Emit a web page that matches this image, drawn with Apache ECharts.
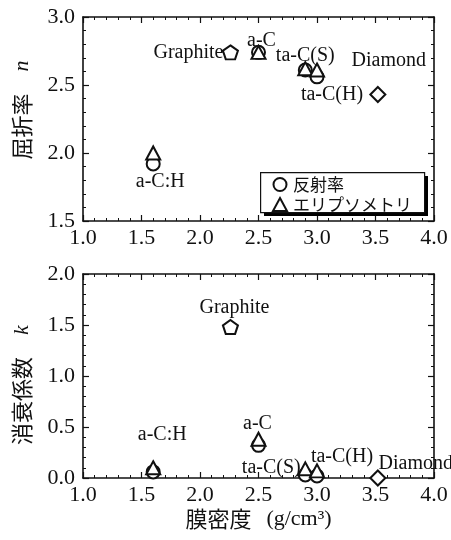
<!DOCTYPE html>
<html>
<head>
<meta charset="utf-8">
<script src="https://cdn.jsdelivr.net/npm/echarts@6/dist/echarts.min.js"></script>
<style>
html,body{margin:0;padding:0;background:#fff;}
#c{width:451px;height:540px;}
</style>
</head>
<body>
<div id="c"></div>
<script>
// ---- data ----
const materials     = ['a-C:H', 'Graphite', 'a-C', 'ta-C(S)', 'ta-C(H)', 'Diamond'];
const density       = [1.60, 2.26, 2.50, 2.90, 3.00, 3.52];
const nReflectance  = [1.92, null, 2.74, 2.61, 2.56, null];
const nEllipsometry = [2.00, null, 2.74, 2.62, 2.61, null];
const nReference    = [null, 2.74, null, null, null, 2.43];
const kReflectance  = [0.06, null, 0.32, 0.03, 0.02, null];
const kEllipsometry = [0.10, null, 0.38, 0.09, 0.07, null];
const kReference    = [null, 1.48, null, null, null, 0.00];
const seriesNames   = ['反射率', 'エリプソメトリ'];
const refSymbols    = {'Graphite': 'pentagon', 'Diamond': 'diamond'};

// ---- styles ----
const INK = '#111';
const SERIF = 'Liberation Serif';
const JP = 'Noto Sans CJK JP';
const PENTAGON = 'path://M50,0 L97.6,34.5 L79.4,90.5 L20.6,90.5 L2.4,34.5 Z';
const labelOffsetTop = {
  'a-C:H': [7, 29], 'Graphite': [-42, 0], 'a-C': [3, -12],
  'ta-C(S)': [0, -13], 'ta-C(H)': [15, 25], 'Diamond': [11, -34]
};
const labelOffsetBottom = {
  'a-C:H': [9, -33], 'Graphite': [4, -19], 'a-C': [-1, -15],
  'ta-C(S)': [-34, -1], 'ta-C(H)': [25, -14], 'Diamond': [38, -14]
};

function pairs(vals) {
  const out = [];
  vals.forEach((v, i) => { if (v !== null) out.push([density[i], v]); });
  return out;
}
function refData(vals) {
  const out = [];
  vals.forEach((v, i) => {
    if (v !== null) {
      const s = refSymbols[materials[i]];
      out.push({value: [density[i], v],
        symbol: s === 'pentagon' ? PENTAGON : 'diamond',
        symbolSize: s === 'pentagon' ? [15, 14] : [15, 15]});
    }
  });
  return out;
}
function labelData(refl, ell, ref, offsets) {
  return materials.map((m, i) => {
    const cands = [refl[i], ell[i], ref[i]].filter(v => v !== null);
    return {
      value: [density[i], Math.max.apply(null, cands)],
      name: m,
      label: {offset: offsets[m]}
    };
  });
}

const axisLineStyle = {color: INK, width: 1.6};
function xAxes(grid, withName) {
  const base = {
    gridIndex: grid, type: 'value', min: 1, max: 4, interval: 0.5,
    axisLine: {show: true, onZero: false, lineStyle: axisLineStyle},
    axisTick: {show: true, inside: true, length: 6, lineStyle: {color: INK, width: 1.2}},
    minorTick: {show: true, splitNumber: 5, length: 3, lineStyle: {color: INK, width: 1}},
    splitLine: {show: false}
  };
  const bottom = Object.assign({}, base, {
    position: 'bottom',
    axisLabel: {formatter: v => v.toFixed(1), fontFamily: SERIF, fontSize: 22, color: INK, margin: 6}
  });
  if (withName) {
    Object.assign(bottom, {
      name: '膜密度{g|}{s|(g/cm³)}', nameLocation: 'middle', nameGap: 30,
      nameTextStyle: {fontFamily: JP, fontSize: 22, color: INK,
        rich: {g: {width: 15}, s: {fontFamily: SERIF, fontSize: 22, color: INK}}}
    });
  }
  const top = Object.assign({}, base, {position: 'top', axisLabel: {show: false}});
  return [bottom, top];
}
function yAxes(grid, min, max, nameText, sym, pad) {
  const base = {
    gridIndex: grid, type: 'value', min: min, max: max, interval: 0.5,
    axisLine: {show: true, onZero: false, lineStyle: axisLineStyle},
    axisTick: {show: true, inside: true, length: 6, lineStyle: {color: INK, width: 1.2}},
    minorTick: {show: true, splitNumber: 5, length: 3, lineStyle: {color: INK, width: 1}},
    splitLine: {show: false}
  };
  const left = Object.assign({}, base, {
    position: 'left',
    axisLabel: {formatter: v => v.toFixed(1), fontFamily: SERIF, fontSize: 22, color: INK, margin: 8},
    name: nameText + '　{i|' + sym + '}', nameLocation: 'middle', nameGap: 50,
    nameTextStyle: {fontFamily: JP, fontSize: 22, color: INK, padding: pad,
      rich: {i: {fontFamily: SERIF, fontStyle: 'italic', fontSize: 22, color: INK}}}
  });
  const right = Object.assign({}, base, {position: 'right', axisLabel: {show: false}});
  return [left, right];
}

const markerStyle = {color: '#fff', borderColor: INK, borderWidth: 2, opacity: 1};
function panelSeries(xi, yi, refl, ell, ref, offsets) {
  return [
    {name: seriesNames[0], type: 'scatter', xAxisIndex: xi, yAxisIndex: yi,
     symbol: 'circle', symbolSize: 13, itemStyle: markerStyle, z: 3, data: pairs(refl)},
    {name: seriesNames[1], type: 'scatter', xAxisIndex: xi, yAxisIndex: yi,
     symbol: 'triangle', symbolSize: [14, 13], itemStyle: markerStyle, z: 4, data: pairs(ell)},
    {name: 'reference', type: 'scatter', xAxisIndex: xi, yAxisIndex: yi,
     itemStyle: markerStyle, z: 3, data: refData(ref)},
    {name: 'labels', type: 'scatter', xAxisIndex: xi, yAxisIndex: yi,
     symbolSize: 0, z: 5, silent: true, itemStyle: {opacity: 1},
     label: {show: true, position: 'inside', formatter: p => p.name,
       fontFamily: SERIF, fontSize: 20, color: INK},
     data: labelData(refl, ell, ref, offsets)}
  ];
}

const chart = echarts.init(document.getElementById('c'), null, {renderer: 'canvas'});
chart.setOption({
  animation: false,
  backgroundColor: '#fff',
  grid: [
    {left: 83, right: 17, top: 17, height: 204},
    {left: 83, right: 17, top: 274, height: 204}
  ],
  xAxis: [].concat(xAxes(0, false), xAxes(1, true)),
  yAxis: [].concat(yAxes(0, 1.5, 3.0, '屈折率', 'n', [0, 0, 0, 18]),
                   yAxes(1, 0, 2.0, '消衰係数', 'k', [0, 18, 0, 0])),
  graphic: [
    {type: 'rect', left: 264, top: 176, z: 90,
     shape: {width: 164, height: 40}, style: {fill: '#000'}},
    {type: 'rect', left: 260, top: 172, z: 91,
     shape: {width: 164, height: 40}, style: {fill: '#fff', stroke: INK, lineWidth: 1.2}}
  ],
  legend: {
    data: seriesNames, orient: 'vertical', left: 260, top: 172, z: 100,
    padding: [4, 12, 5, 12], itemGap: 3, itemWidth: 14, itemHeight: 13,
    selectedMode: false,
    textStyle: {fontFamily: JP, fontSize: 17, lineHeight: 14, color: INK, padding: [0, 0, 0, 1]}
  },
  series: [].concat(
    panelSeries(0, 0, nReflectance, nEllipsometry, nReference, labelOffsetTop),
    panelSeries(2, 2, kReflectance, kEllipsometry, kReference, labelOffsetBottom)
  )
});
</script>
</body>
</html>
